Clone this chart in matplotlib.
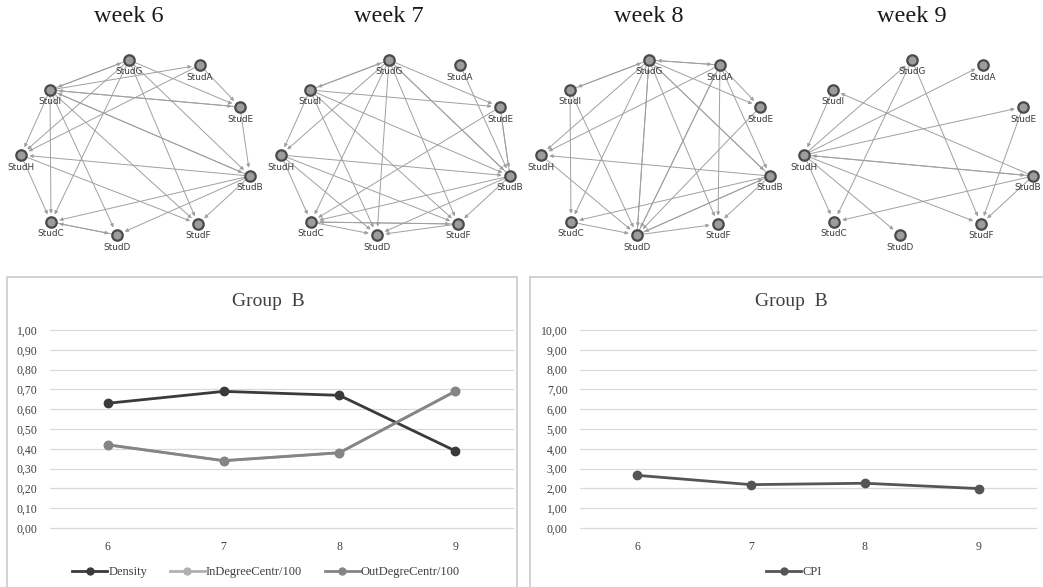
import matplotlib
matplotlib.use("Agg")
import matplotlib.pyplot as plt
from matplotlib.patches import FancyArrowPatch, Rectangle
from matplotlib.lines import Line2D

W, H = 1043, 587

# ---------------- data ----------------
weeks = ["week 6", "week 7", "week 8", "week 9"]
students = ["StudA", "StudB", "StudC", "StudD", "StudE", "StudF", "StudG", "StudH", "StudI"]
# circular layout (pixel units inside each 260x260 panel)
layout_x = [200, 250, 51, 117, 240, 198, 129, 21, 50]
layout_y = [65, 176, 222, 235, 107, 224, 60, 155, 90]

edges_w6 = ["G>I", "I>G", "I>A", "G>E", "A>E", "I>E", "E>B", "I>H", "I>C", "I>D", "I>F",
            "I>B", "G>H", "A>H", "G>C", "G>F", "G>B", "B>H", "H>C", "H>F", "B>C", "B>D",
            "B>F", "C>D", "D>C", "E>I", "B>I"]
edges_w7 = ["G>I", "I>G", "G>E", "G>H", "G>C", "G>D", "G>F", "G>B", "A>B", "I>E", "I>B",
            "I>H", "I>D", "I>F", "E>C", "E>B", "B>E", "H>B", "H>C", "H>D", "H>F", "B>C",
            "B>D", "B>F", "C>D", "C>F", "F>C", "F>D", "B>G"]
edges_w8 = ["G>A", "A>G", "G>I", "G>E", "G>H", "G>C", "G>D", "G>F", "G>B", "A>E", "A>H",
            "A>D", "A>F", "A>B", "I>C", "I>D", "E>D", "B>H", "H>D", "B>C", "B>D", "B>F",
            "C>D", "D>F", "D>B", "D>G", "D>A", "B>G", "I>G"]
edges_w9 = ["H>G", "H>A", "G>C", "G>F", "I>H", "H>E", "B>I", "H>B", "B>H", "H>C", "H>D",
            "H>F", "E>F", "B>C", "B>F"]
weekly_edges = [edges_w6, edges_w7, edges_w8, edges_w9]
panel_left = [0, 260, 520, 783]

x_weeks = ["6", "7", "8", "9"]
density = [0.63, 0.69, 0.67, 0.39]
in_degree = [0.42, 0.34, 0.38, 0.69]
out_degree = [0.42, 0.34, 0.38, 0.69]
cpi = [2.66, 2.19, 2.26, 1.99]
y_ticks_left = [0.0, 0.1, 0.2, 0.3, 0.4, 0.5, 0.6, 0.7, 0.8, 0.9, 1.0]
y_ticks_right = [0, 1, 2, 3, 4, 5, 6, 7, 8, 9, 10]

# ---------------- figure ----------------
fig = plt.figure(figsize=(W / 100, H / 100), dpi=100)
fig.patch.set_facecolor("white")
serif = "Liberation Serif"

pos = {s[-1]: (x, y) for s, x, y in zip(students, layout_x, layout_y)}

for title, edges, left in zip(weeks, weekly_edges, panel_left):
    ax = fig.add_axes([left / W, (H - 260) / H, 260 / W, 260 / H])
    ax.set_xlim(0, 260)
    ax.set_ylim(260, 0)
    ax.axis("off")
    ax.text(129, 17, title, ha="center", va="center", fontsize=17.5,
            family=serif, color="#1a1a1a")
    for e in edges:
        a, b = e.split(">")
        arr = FancyArrowPatch(pos[a], pos[b], arrowstyle="-|>", mutation_scale=5,
                              shrinkA=4, shrinkB=6, color="#a0a0a0", lw=0.7,
                              zorder=1)
        ax.add_patch(arr)
    for s, x, y in zip(students, layout_x, layout_y):
        ax.plot([x], [y], marker="o", ms=7.5, mfc="#9c9c9c", mec="#4a4a4a",
                mew=1.6, zorder=3, clip_on=False)
        lx = x
        if left + x + 14 > W:
            lx = W - left - 15
        ax.text(lx, y + 12, s, ha="center", va="center", fontsize=6.4,
                color="#3a3a3a", family="DejaVu Sans", zorder=4)

# ---------------- panel boxes ----------------
for (x0, x1) in [(7, 517), (530, 1050)]:
    fig.patches.append(Rectangle((x0 / W, -0.05), (x1 - x0) / W, (H - 277) / H + 0.05,
                                 transform=fig.transFigure, fill=False,
                                 ec="#cfcfcf", lw=1.3, zorder=0))


def style_line_axes(ax, ticks, fmt):
    ax.set_xlim(-0.5, 3.5)
    ax.set_ylim(ticks[0], ticks[-1])
    ax.set_yticks(ticks)
    ax.set_yticklabels([fmt(t) for t in ticks], family=serif, fontsize=8.5,
                       color="#404040")
    ax.set_xticks(range(len(x_weeks)))
    ax.set_xticklabels(x_weeks, family=serif, fontsize=8.5, color="#404040")
    ax.tick_params(axis="both", length=0)
    ax.tick_params(axis="y", pad=9)
    ax.tick_params(axis="x", pad=9)
    for sp in ax.spines.values():
        sp.set_visible(False)
    ax.grid(axis="y", color="#d9d9d9", lw=0.9, clip_on=False)
    ax.set_axisbelow(True)


y0 = (H - 528) / H
hh = (528 - 330) / H

axL = fig.add_axes([50 / W, y0, 463 / W, hh])
xs = range(len(x_weeks))
axL.plot(xs, in_degree, color="#b0b0b0", lw=2, marker="o", ms=6, label="InDegreeCentr/100")
axL.plot(xs, density, color="#3a3a3a", lw=2, marker="o", ms=6, label="Density")
axL.plot(xs, out_degree, color="#858585", lw=2, marker="o", ms=6, label="OutDegreCentr/100")
style_line_axes(axL, y_ticks_left, lambda t: f"{t:.2f}".replace(".", ","))
handles = [Line2D([], [], color="#3a3a3a", lw=2, marker="o", ms=5),
           Line2D([], [], color="#b0b0b0", lw=2, marker="o", ms=5),
           Line2D([], [], color="#858585", lw=2, marker="o", ms=5)]
fig.legend(handles, ["Density", "InDegreeCentr/100", "OutDegreCentr/100"],
           loc="center", bbox_to_anchor=(266 / W, (H - 572) / H), ncol=3, frameon=False,
           prop={"family": serif, "size": 9}, handlelength=2.8, handletextpad=0.1,
           columnspacing=1.8, labelcolor="#404040")
fig.text(268 / W, (H - 302) / H, "Group  B", ha="center", va="center", family=serif,
         fontsize=14, color="#404040")

axR = fig.add_axes([580 / W, y0, 456 / W, hh])
axR.plot(xs, cpi, color="#555555", lw=2, marker="o", ms=6, label="CPI")
style_line_axes(axR, y_ticks_right, lambda t: f"{t:.2f}".replace(".", ","))
fig.legend([Line2D([], [], color="#555555", lw=2, marker="o", ms=5)], ["CPI"],
           loc="center", bbox_to_anchor=(794 / W, (H - 572) / H), frameon=False,
           prop={"family": serif, "size": 9}, handlelength=2.8, handletextpad=0.1,
           labelcolor="#404040")
fig.text(791 / W, (H - 302) / H, "Group  B", ha="center", va="center", family=serif,
         fontsize=14, color="#404040")

fig.savefig("out.png", dpi=100)
